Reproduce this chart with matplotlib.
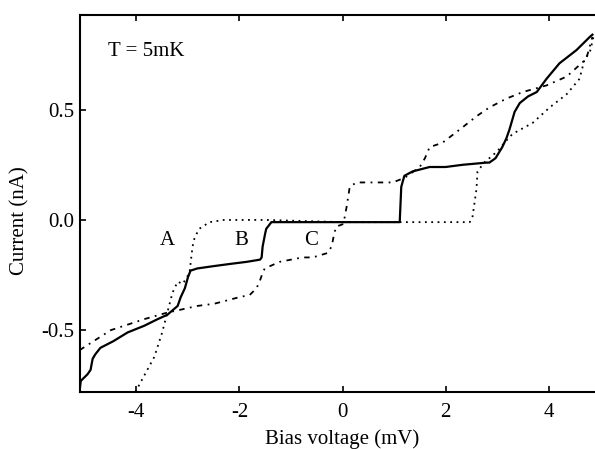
import matplotlib
matplotlib.use("Agg")
import matplotlib.pyplot as plt

plt.rcParams['font.family'] = ['Liberation Serif', 'DejaVu Serif']
plt.rcParams['axes.unicode_minus'] = False

# curve A (dotted)
a_v = [-4.02, -3.65, -3.5, -3.4, -3.3, -3.2, -3.1, -2.97, -2.93, -2.91, -2.87,
       -2.78, -2.58, -2.3, -1.48, 0.0, 1.11, 1.36, 2.0, 2.47, 2.52, 2.6, 2.62,
       2.75, 3.0, 3.18, 3.3, 3.69, 4.02, 4.35, 4.6, 4.7, 4.8, 4.87]
a_i = [-0.78, -0.62, -0.51, -0.42, -0.33, -0.28, -0.29, -0.24, -0.16, -0.12,
       -0.08, -0.04, -0.01, 0.0, 0.0, -0.01, -0.01, -0.01, -0.01, -0.01, 0.01,
       0.14, 0.22, 0.26, 0.31, 0.36, 0.39, 0.44, 0.51, 0.57, 0.64, 0.73, 0.76,
       0.83]

# curve B (solid)
b_v = [-5.1, -5.08, -4.95, -4.89, -4.85, -4.8, -4.7, -4.45, -4.17, -3.85, -3.59,
       -3.4, -3.2, -3.14, -3.06, -3.0, -2.95, -2.82, -2.52, -2.2, -1.86, -1.6,
       -1.57, -1.55, -1.5, -1.48, -1.38, 0.0, 1.11, 1.14, 1.2, 1.36, 1.69, 2.0,
       2.33, 2.8, 2.85, 2.97, 3.1, 3.18, 3.24, 3.34, 3.44, 3.6, 3.77, 3.96,
       4.21, 4.54, 4.8, 4.85]
b_i = [-0.77, -0.73, -0.70, -0.68, -0.63, -0.61, -0.58, -0.55, -0.51, -0.48,
       -0.45, -0.43, -0.39, -0.35, -0.31, -0.26, -0.23, -0.22, -0.21, -0.20,
       -0.19, -0.18, -0.17, -0.12, -0.06, -0.04, -0.01, -0.01, -0.01, 0.15,
       0.20, 0.22, 0.24, 0.24, 0.25, 0.26, 0.26, 0.28, 0.33, 0.37, 0.41, 0.49,
       0.53, 0.56, 0.58, 0.64, 0.71, 0.77, 0.83, 0.84]

# curve C (dash-dot)
c_v = [-5.1, -4.5, -3.85, -3.4, -3.2, -2.82, -2.49, -2.0, -1.8, -1.67, -1.61,
       -1.55, -1.51, -1.22, -0.78, -0.58, -0.29, -0.21, -0.16, -0.12, 0.0, 0.04,
       0.08, 0.14, 0.27, 0.52, 0.97, 1.2, 1.5, 1.6, 1.69, 1.94, 2.33, 2.6, 2.85,
       3.18, 3.5, 3.96, 4.35, 4.73, 4.85]
c_i = [-0.59, -0.50, -0.45, -0.42, -0.41, -0.39, -0.38, -0.35, -0.34, -0.31,
       -0.28, -0.24, -0.22, -0.19, -0.17, -0.17, -0.15, -0.12, -0.06, -0.03,
       -0.02, 0.01, 0.06, 0.15, 0.17, 0.17, 0.17, 0.19, 0.24, 0.28, 0.33, 0.35,
       0.42, 0.47, 0.51, 0.55, 0.58, 0.61, 0.65, 0.73, 0.83]

labels = ['A', 'B', 'C']
label_x = [-3.4, -1.96, -0.62]
label_y = [-0.095, -0.095, -0.095]

fig = plt.figure(figsize=(5.95, 4.49), dpi=100)
ax = fig.add_axes([0.134, 0.127, 0.866, 0.84])

ax.plot(a_v, a_i, color='black', lw=1.3, linestyle=(0, (1, 2.5)))
ax.plot(b_v, b_i, color='black', lw=1.6, linestyle='-')
ax.plot(c_v, c_i, color='black', lw=1.3, linestyle=(0, (3, 3, 1, 3)))

for lab, x, y in zip(labels, label_x, label_y):
    ax.text(x, y, lab, fontsize=15, ha='center', va='center')
ax.text(-4.55, 0.765, 'T = 5mK', fontsize=15, ha='left', va='center')

ax.set_xlim(-5.1, 4.9)
ax.set_ylim(-0.78, 0.93)
ax.set_xticks([-4, -2, 0, 2, 4])
ax.set_yticks([-0.5, 0.0, 0.5])
ax.set_yticklabels(['-0.5', '0.0', '0.5'])
ax.tick_params(direction='in', length=4, width=1.2, labelsize=15,
               top=True, right=False)
ax.tick_params(axis='x', pad=8)
ax.tick_params(axis='y', pad=4)
ax.spines['right'].set_visible(False)
for s in ['left', 'top', 'bottom']:
    ax.spines[s].set_linewidth(1.5)

ax.set_xlabel('Bias voltage (mV)', fontsize=15)
ax.set_ylabel('Current (nA)', fontsize=15)
ax.xaxis.set_label_coords(0.51, -0.1)
ax.yaxis.set_label_coords(-0.097, 0.454)

fig.savefig('out.png', dpi=100)
